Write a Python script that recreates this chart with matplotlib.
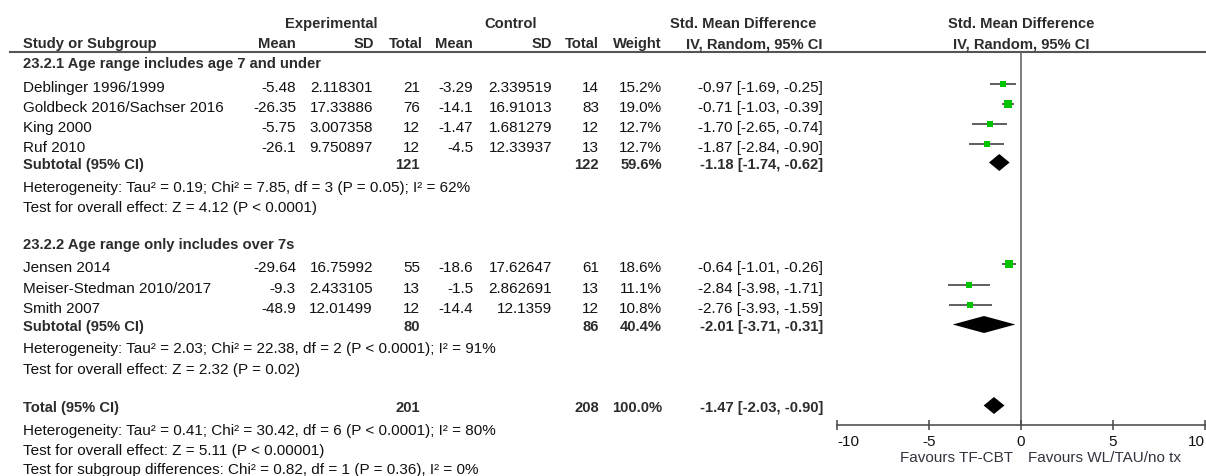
import numpy as np
import matplotlib.pyplot as plt

plt.rcParams['font.family'] = ['Liberation Sans', 'DejaVu Sans']

# group 1
g1_title = '23.2.1 Age range includes age 7 and under'
g1_study = ['Deblinger 1996/1999', 'Goldbeck 2016/Sachser 2016', 'King 2000', 'Ruf 2010']
g1_exp_mean = [-5.48, -26.35, -5.75, -26.1]
g1_exp_sd = [2.118301, 17.33886, 3.007358, 9.750897]
g1_exp_n = [21, 76, 12, 12]
g1_ctl_mean = [-3.29, -14.1, -1.47, -4.5]
g1_ctl_sd = [2.339519, 16.91013, 1.681279, 12.33937]
g1_ctl_n = [14, 83, 12, 13]
g1_weight = [15.2, 19.0, 12.7, 12.7]
g1_smd = [-0.97, -0.71, -1.70, -1.87]
g1_lo = [-1.69, -1.03, -2.65, -2.84]
g1_hi = [-0.25, -0.39, -0.74, -0.90]
g1_sub = [121, 122, 59.6, -1.18, -1.74, -0.62]
g1_het = 'Heterogeneity: Tau² = 0.19; Chi² = 7.85, df = 3 (P = 0.05); I² = 62%'
g1_test = 'Test for overall effect: Z = 4.12 (P < 0.0001)'

# group 2
g2_title = '23.2.2 Age range only includes over 7s'
g2_study = ['Jensen 2014', 'Meiser-Stedman 2010/2017', 'Smith 2007']
g2_exp_mean = [-29.64, -9.3, -48.9]
g2_exp_sd = [16.75992, 2.433105, 12.01499]
g2_exp_n = [55, 13, 12]
g2_ctl_mean = [-18.6, -1.5, -14.4]
g2_ctl_sd = [17.62647, 2.862691, 12.1359]
g2_ctl_n = [61, 13, 12]
g2_weight = [18.6, 11.1, 10.8]
g2_smd = [-0.64, -2.84, -2.76]
g2_lo = [-1.01, -3.98, -3.93]
g2_hi = [-0.26, -1.71, -1.59]
g2_sub = [80, 86, 40.4, -2.01, -3.71, -0.31]
g2_het = 'Heterogeneity: Tau² = 2.03; Chi² = 22.38, df = 2 (P < 0.0001); I² = 91%'
g2_test = 'Test for overall effect: Z = 2.32 (P = 0.02)'

# overall
tot = [201, 208, 100.0, -1.47, -2.03, -0.90]
tot_het = 'Heterogeneity: Tau² = 0.41; Chi² = 30.42, df = 6 (P < 0.0001); I² = 80%'
tot_test = 'Test for overall effect: Z = 5.11 (P < 0.00001)'
tot_sub = 'Test for subgroup differences: Chi² = 0.82, df = 1 (P = 0.36), I² = 0%'

x_ticks = [-10, -5, 0, 5, 10]
fav_left = 'Favours TF-CBT'
fav_right = 'Favours WL/TAU/no tx'

W, H = 1206, 476
FS = 11.0
FSB = 10.6
TXT = '#111111'
BLD = '#2c2c2c'

fig = plt.figure(figsize=(W / 100, H / 100), dpi=100)
bg = fig.add_axes([0, 0, 1, 1])
bg.set_xlim(0, W)
bg.set_ylim(H, 0)
bg.axis('off')

fa = fig.add_axes([837 / W, (H - 425) / H, (1205 - 837) / W, (425 - 52) / H])
fa.set_xlim(-10, 10)
fa.set_ylim(425, 52)
fa.patch.set_alpha(0)
for s in ['top', 'left', 'right']:
    fa.spines[s].set_visible(False)
fa.spines['bottom'].set_color('#444444')
fa.spines['bottom'].set_linewidth(1.1)
fa.set_yticks([])
fa.set_xticks(x_ticks)
fa.set_xticklabels([str(t) for t in x_ticks])
fa.tick_params(axis='x', direction='inout', length=7, width=1.1, color='#444444',
               labelsize=FS, labelcolor=TXT, pad=3.5)
tl = fa.get_xticklabels()
tl[0].set_ha('left')
tl[-1].set_ha('right')
fa.axvline(0, color='#666666', lw=1.2, zorder=1)

cx = {'em': 296, 'esd': 373, 'en': 420, 'cm': 473, 'csd': 552, 'cn': 599, 'w': 662, 'ci': 823}


def txt(x, y, s, ha='left', bold=False, color=None):
    # y is the visual centre of the line, text drawn on its baseline
    bg.text(x, y + 5.2, s, ha=ha, va='baseline', fontsize=FSB if bold else FS,
            fontweight='bold' if bold else 'normal',
            color=color or (BLD if bold else TXT))


def ci_str(m, lo, hi):
    return '%.2f [%.2f, %.2f]' % (m, lo, hi)


def studies(ys, name, em, esd, en, cm, csd, cn, w, smd, lo, hi):
    for i, y in enumerate(ys):
        txt(23, y, name[i])
        txt(cx['em'], y, str(em[i]), 'right')
        txt(cx['esd'], y, str(esd[i]), 'right')
        txt(cx['en'], y, str(en[i]), 'right')
        txt(cx['cm'], y, str(cm[i]), 'right')
        txt(cx['csd'], y, str(csd[i]), 'right')
        txt(cx['cn'], y, str(cn[i]), 'right')
        txt(cx['w'], y, '%.1f%%' % w[i], 'right')
        txt(cx['ci'], y, ci_str(smd[i], lo[i], hi[i]), 'right')
        my = y - 3.3
        fa.hlines(my, lo[i], hi[i], color='#333333', lw=1.1, zorder=2)
        side = 1.65 * np.sqrt(w[i])
        fa.plot(smd[i], my, 's', color='#00c400', ms=side * 0.72, mew=0, zorder=3)


def pooled(y, label, vals):
    ne, nc, w, m, lo, hi = vals
    txt(23, y, label, bold=True)
    txt(cx['en'], y, str(ne), 'right', bold=True)
    txt(cx['cn'], y, str(nc), 'right', bold=True)
    txt(cx['w'], y, '%.1f%%' % w, 'right', bold=True)
    txt(cx['ci'], y, ci_str(m, lo, hi), 'right', bold=True)
    dy = y - 1.5
    h = 8.5
    fa.fill([lo, m, hi, m], [dy, dy - h, dy, dy + h], color='black', lw=0, zorder=3)


# headers
txt(331, 23, 'Experimental', 'center', bold=True)
txt(511, 23, 'Control', 'center', bold=True)
txt(743, 23, 'Std. Mean Difference', 'center', bold=True)
txt(1021, 23, 'Std. Mean Difference', 'center', bold=True)
txt(23, 43, 'Study or Subgroup', bold=True)
for x, s in [(296, 'Mean'), (374, 'SD'), (423, 'Total'), (473, 'Mean'), (552, 'SD'),
             (599, 'Total'), (662, 'Weight'), (823, 'IV, Random, 95% CI')]:
    txt(x, 43, s, 'right', bold=True)
txt(1021, 43, 'IV, Random, 95% CI', 'center', bold=True)
bg.plot([10, W], [52, 52], color='#555555', lw=1.5)

# group 1
txt(23, 63, g1_title, bold=True)
studies([87, 107, 127, 147], g1_study, g1_exp_mean, g1_exp_sd, g1_exp_n, g1_ctl_mean,
        g1_ctl_sd, g1_ctl_n, g1_weight, g1_smd, g1_lo, g1_hi)
pooled(164, 'Subtotal (95% CI)', g1_sub)
txt(23, 187, g1_het)
txt(23, 207, g1_test)

# group 2
txt(23, 244, g2_title, bold=True)
studies([267, 288, 308], g2_study, g2_exp_mean, g2_exp_sd, g2_exp_n, g2_ctl_mean,
        g2_ctl_sd, g2_ctl_n, g2_weight, g2_smd, g2_lo, g2_hi)
pooled(326, 'Subtotal (95% CI)', g2_sub)
txt(23, 348, g2_het)
txt(23, 369, g2_test)

# total
pooled(407, 'Total (95% CI)', tot)
txt(23, 430, tot_het)
txt(23, 450, tot_test)
txt(23, 469, tot_sub)

txt(1013, 457, fav_left, 'right', color='#333340')
txt(1028, 457, fav_right, color='#333340')

fig.savefig('out.png', dpi=100)
